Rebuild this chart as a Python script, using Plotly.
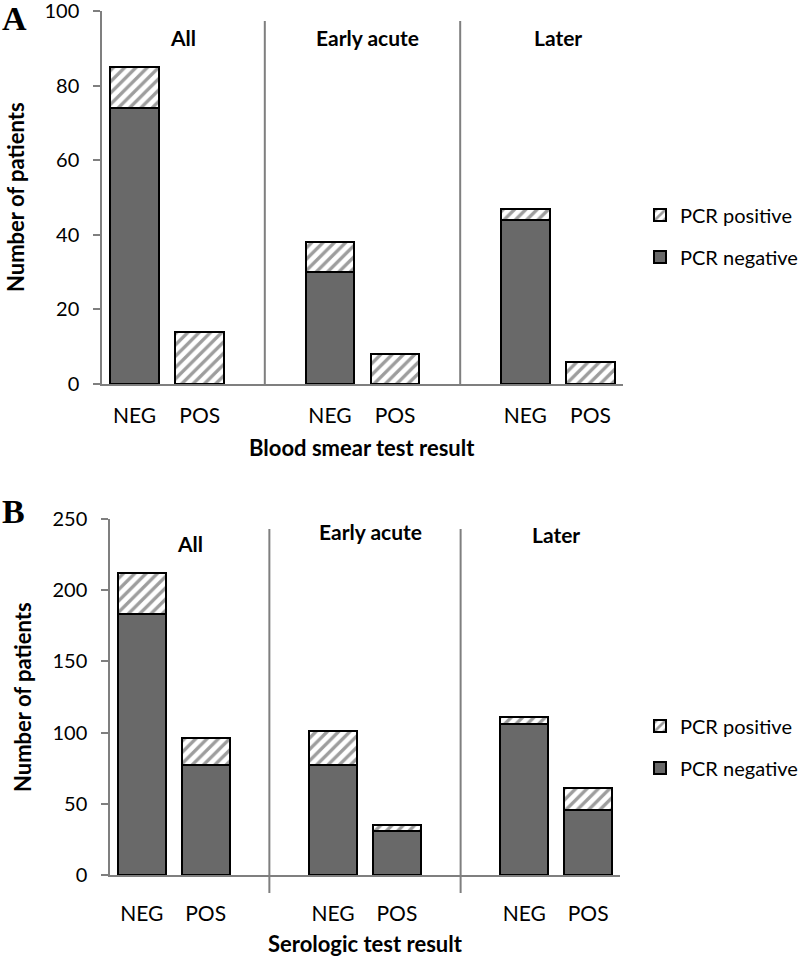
import plotly.graph_objects as go

# data
groups = ["All", "Early acute", "Later"]
tests = ["NEG", "POS"]

smear_pcr_neg = [74, 0, 30, 0, 44, 0]
smear_pcr_pos = [11, 14, 8, 8, 3, 6]

sero_pcr_neg = [183, 77, 77, 31, 106, 46]
sero_pcr_pos = [29, 19, 24, 4, 5, 15]

W, H = 800, 958
FONT = "Lato, Calibri, sans-serif"
GREY = "#7f7f7f"
DARK = "#696969"


def px_x(v):
    return v / W


def px_y(v):
    return 1 - v / H


# slot positions: two bars per group, one empty slot between groups
xpos = [g * 3 + t for g in range(len(groups)) for t in range(len(tests))]
tick_text = [t for g in groups for t in tests]

fig = go.Figure()

panels = [
    dict(neg=smear_pcr_neg, pos=smear_pcr_pos, xa="x", ya="y", legend="legend"),
    dict(neg=sero_pcr_neg, pos=sero_pcr_pos, xa="x2", ya="y2", legend="legend2"),
]

for p in panels:
    fig.add_trace(go.Bar(
        x=xpos, y=p["neg"], name="PCR negative", xaxis=p["xa"], yaxis=p["ya"],
        width=0.75, legend=p["legend"], legendgroup=p["legend"] + "neg",
        legendrank=2,
        marker=dict(color=DARK, line=dict(color="black", width=2)),
    ))
    fig.add_trace(go.Bar(
        x=xpos, y=p["pos"], name="PCR positive", xaxis=p["xa"], yaxis=p["ya"],
        width=0.75, legend=p["legend"], legendgroup=p["legend"] + "pos",
        legendrank=1,
        marker=dict(color="white", line=dict(color="black", width=2),
                    pattern=dict(shape="/", fgcolor="#3c3c3c", bgcolor="white",
                                 size=8, solidity=0.42)),
    ))

xcommon = dict(
    range=[-0.5, 7.5], tickmode="array", tickvals=xpos, ticktext=tick_text,
    showline=True, linecolor=GREY, linewidth=1.5, ticks="", showgrid=False,
    zeroline=False, tickfont=dict(family=FONT, size=21, color="black"),
    automargin=False, ticklabeloverflow="allow",
)
ycommon = dict(
    showline=True, linecolor=GREY, linewidth=1.5, ticks="outside", ticklen=7,
    tickcolor=GREY, tickwidth=1.5, showgrid=False, zeroline=False,
    tickfont=dict(family=FONT, size=20, color="black"), ticklabelstandoff=10,
    automargin=False, ticklabeloverflow="allow",
)

legend_common = dict(xanchor="left", yanchor="middle", traceorder="grouped",
                     tracegroupgap=13, itemwidth=30,
                     font=dict(family=FONT, size=20, color="black"))

fig.update_layout(
    width=W, height=H, margin=dict(l=0, r=0, t=0, b=0, autoexpand=False),
    plot_bgcolor="white", paper_bgcolor="white", barmode="stack",
    xaxis=dict(domain=[px_x(102), px_x(623)], anchor="y",
               ticklabelstandoff=12, **xcommon),
    yaxis=dict(domain=[px_y(384), px_y(11)], anchor="x", range=[0, 100],
               dtick=20, **ycommon),
    xaxis2=dict(domain=[px_x(110), px_x(620)], anchor="y2",
                ticklabelstandoff=19, **xcommon),
    yaxis2=dict(domain=[px_y(875), px_y(519)], anchor="x2", range=[0, 250],
                dtick=50, **ycommon),
    legend=dict(x=px_x(640), y=px_y(236), **legend_common),
    legend2=dict(x=px_x(640), y=px_y(747), **legend_common),
    showlegend=True,
)

# group separators
for xr, yr, y0, y1 in [("x", "y domain", 0, (384 - 21) / 373),
                       ("x2", "y2 domain", -18 / 356, (875 - 529) / 356)]:
    for sx in [2, 5]:
        fig.add_shape(type="line", xref=xr, yref=yr, x0=sx, x1=sx, y0=y0, y1=y1,
                      line=dict(color=GREY, width=2))

bold = dict(family=FONT, size=21, color="black", weight="bold")
bold_title = dict(family=FONT, size=22, color="black", weight="bold")

# group labels
group_label_x = [0.75, 3.58, 6.5]
for xr, yref, ys in [("x", "y", [93, 93, 93]), ("x2", "y2", [233, 241, 239])]:
    for g, gx, gy in zip(groups, group_label_x, ys):
        fig.add_annotation(x=gx, y=gy, xref=xr, yref=yref, text="<b>%s</b>" % g,
                           showarrow=False, font=bold)


def paper_text(x, y, text, font, **kw):
    fig.add_annotation(x=px_x(x), y=px_y(y), xref="paper", yref="paper",
                       text=text, showarrow=False, font=font,
                       xanchor=kw.pop("xanchor", "center"), yanchor="middle", **kw)


# axis titles
paper_text(362, 447, "<b>Blood smear test result</b>", bold_title)
paper_text(365, 943, "<b>Serologic test result</b>", bold_title)
paper_text(15, 197, "<b>Number of patients</b>", bold_title, textangle=-90)
paper_text(22, 697, "<b>Number of patients</b>", bold_title, textangle=-90)

# panel letters
letter = dict(family="Liberation Serif, Times New Roman, serif", size=34,
              color="black", weight="bold")
paper_text(0, 19, "<b>A</b>", letter, xanchor="left")
paper_text(0, 512, "<b>B</b>", letter, xanchor="left")

fig.write_html("out.html", config={"displayModeBar": False},
               post_script="document.body.style.margin='0';")
